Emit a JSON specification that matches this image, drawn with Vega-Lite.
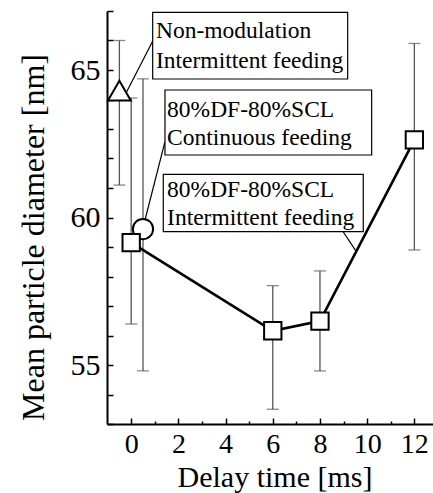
{
  "$schema": "https://vega.github.io/schema/vega-lite/v6.json",
  "autosize": "none",
  "width": 326,
  "height": 413,
  "padding": {"left": 107, "top": 11, "right": 0, "bottom": 69},
  "background": "white",
  "config": {
    "view": {"stroke": null},
    "font": "Liberation Serif",
    "axis": {
      "grid": false,
      "domainColor": "black", "domainWidth": 2,
      "tickColor": "black", "tickWidth": 1.5,
      "labelFont": "Liberation Serif", "labelFontSize": 28, "labelColor": "black",
      "labelOverlap": false, "labelFlush": false, "labelBound": false,
      "titleFont": "Liberation Serif", "titleFontSize": 30, "titleFontWeight": "normal", "titleColor": "black"
    },
    "text": {"font": "Liberation Serif"}
  },
  "datasets": {
    "pts": [
      {"series": "Non-modulation, intermittent", "delay": -0.5, "mean": 64.3, "lo": 61.1, "hi": 66.0},
      {"series": "80%DF-80%SCL, continuous", "delay": 0.5, "mean": 59.61, "lo": 54.8, "hi": 64.7},
      {"series": "80%DF-80%SCL, intermittent", "delay": 0, "mean": 59.15, "lo": 56.39, "hi": 64.05},
      {"series": "80%DF-80%SCL, intermittent", "delay": 6, "mean": 56.16, "lo": 53.5, "hi": 57.69},
      {"series": "80%DF-80%SCL, intermittent", "delay": 8, "mean": 56.49, "lo": 54.8, "hi": 58.19},
      {"series": "80%DF-80%SCL, intermittent", "delay": 12, "mean": 62.63, "lo": 58.9, "hi": 65.9}
    ],
    "boxes": [
      {"x1": 0.911, "x2": 9.174, "y1": 64.695, "y2": 66.956},
      {"x1": 1.432, "x2": 10.19, "y1": 62.119, "y2": 64.322},
      {"x1": 1.36, "x2": 9.835, "y1": 59.519, "y2": 61.464}
    ],
    "labels": [
      {"x": 1.051, "y": 66.075, "text": "Non-modulation"},
      {"x": 1.051, "y": 65.058, "text": "Intermittent feeding"},
      {"x": 1.52, "y": 63.417, "text": "80%DF-80%SCL"},
      {"x": 1.52, "y": 62.458, "text": "Continuous feeding"},
      {"x": 1.52, "y": 60.705, "text": "80%DF-80%SCL"},
      {"x": 1.52, "y": 59.746, "text": "Intermittent feeding"}
    ],
    "leaders": [
      {"x1": 0.936, "y1": 66.017, "x2": -0.19, "y2": 64.264},
      {"x1": 1.432, "y1": 62.569, "x2": 0.585, "y2": 59.915},
      {"x1": 8.962, "y1": 59.542, "x2": 9.513, "y2": 58.875}
    ]
  },
  "encoding": {
    "x": {
      "type": "quantitative",
      "scale": {"domain": [-1.025, 12.79], "nice": false, "zero": false},
      "axis": {
        "values": [0, 1, 2, 3, 4, 5, 6, 7, 8, 9, 10, 11, 12],
        "labelExpr": "datum.value % 2 === 0 ? datum.label : ''",
        "tickSize": {"condition": {"test": "datum.value % 2 === 0", "value": -6}, "value": -3},
        "labelPadding": 12,
        "title": "Delay time [ms]",
        "titleBaseline": "alphabetic",
        "titleAlign": "center",
        "titleX": 167.5,
        "titleY": 62
      }
    },
    "y": {
      "type": "quantitative",
      "scale": {"domain": [53, 67], "nice": false, "zero": false},
      "axis": {
        "values": [53, 54, 55, 56, 57, 58, 59, 60, 61, 62, 63, 64, 65, 66, 67],
        "labelExpr": "datum.value % 5 === 0 && datum.value < 67 ? datum.label : ''",
        "tickSize": -6,
        "labelPadding": 13,
        "labelFontSize": 30,
        "title": "Mean particle diameter [nm]",
        "titleFontSize": 32,
        "titleAngle": -90,
        "titleBaseline": "alphabetic",
        "titleAlign": "center",
        "titleX": -64,
        "titleY": 226
      }
    }
  },
  "layer": [
    {
      "data": {"name": "pts"},
      "mark": {"type": "rule", "color": "#555555", "strokeWidth": 1.3},
      "encoding": {
        "x": {"field": "delay"},
        "y": {"field": "lo"},
        "y2": {"field": "hi"}
      }
    },
    {
      "data": {"name": "pts"},
      "mark": {"type": "tick", "orient": "horizontal", "color": "#555555", "size": 12, "thickness": 1.3},
      "encoding": {
        "x": {"field": "delay"},
        "y": {"field": "lo"}
      }
    },
    {
      "data": {"name": "pts"},
      "mark": {"type": "tick", "orient": "horizontal", "color": "#555555", "size": 12, "thickness": 1.3},
      "encoding": {
        "x": {"field": "delay"},
        "y": {"field": "hi"}
      }
    },
    {
      "data": {"name": "pts"},
      "transform": [{"filter": "datum.series === '80%DF-80%SCL, intermittent'"}],
      "mark": {"type": "line", "color": "black", "strokeWidth": 2.6},
      "encoding": {
        "x": {"field": "delay", "sort": null},
        "y": {"field": "mean"}
      }
    },
    {
      "data": {"name": "pts"},
      "mark": {"type": "point", "filled": false, "fill": "white", "fillOpacity": 1, "stroke": "black", "strokeWidth": 2, "opacity": 1},
      "encoding": {
        "x": {"field": "delay"},
        "y": {"field": "mean"},
        "shape": {
          "field": "series", "type": "nominal",
          "scale": {
            "domain": ["Non-modulation, intermittent", "80%DF-80%SCL, continuous", "80%DF-80%SCL, intermittent"],
            "range": ["triangle-up", "circle", "square"]
          },
          "legend": null
        },
        "size": {
          "field": "series", "type": "nominal",
          "scale": {
            "domain": ["Non-modulation, intermittent", "80%DF-80%SCL, continuous", "80%DF-80%SCL, intermittent"],
            "range": [520, 300, 300]
          },
          "legend": null
        }
      }
    },
    {
      "data": {"name": "leaders"},
      "mark": {"type": "rule", "color": "black", "strokeWidth": 1.2},
      "encoding": {
        "x": {"field": "x1"},
        "y": {"field": "y1"},
        "x2": {"field": "x2"},
        "y2": {"field": "y2"}
      }
    },
    {
      "data": {"name": "boxes"},
      "mark": {"type": "rect", "fill": "white", "stroke": "black", "strokeWidth": 1.2},
      "encoding": {
        "x": {"field": "x1"},
        "x2": {"field": "x2"},
        "y": {"field": "y1"},
        "y2": {"field": "y2"}
      }
    },
    {
      "data": {"name": "labels"},
      "mark": {"type": "text", "align": "left", "baseline": "alphabetic", "font": "Liberation Serif", "fontSize": 23.5, "color": "black"},
      "encoding": {
        "x": {"field": "x"},
        "y": {"field": "y"},
        "text": {"field": "text"}
      }
    }
  ]
}
